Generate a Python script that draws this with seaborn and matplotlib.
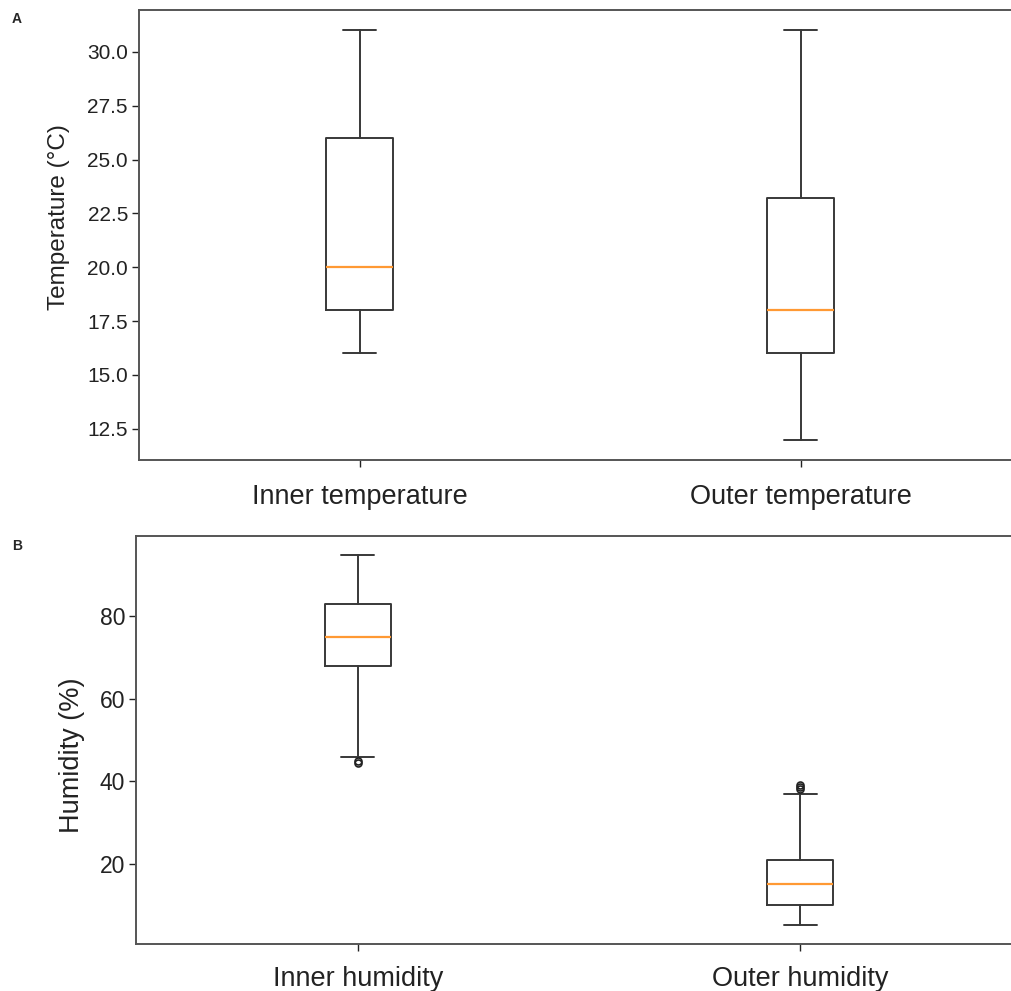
import matplotlib
matplotlib.use("Agg")
import matplotlib.pyplot as plt
import seaborn as sns

sns.set_style("white")
plt.rcParams['font.family'] = ['Liberation Sans', 'DejaVu Sans']

# Panel A: temperature five-number summaries
temp_labels = ["Inner temperature", "Outer temperature"]
temp_low = [16.0, 12.0]
temp_q1 = [18.0, 16.0]
temp_med = [20.0, 18.0]
temp_q3 = [26.0, 23.2]
temp_high = [31.0, 31.0]
temp_fliers = [[], []]

# Panel B: humidity five-number summaries
hum_labels = ["Inner humidity", "Outer humidity"]
hum_low = [46.0, 5.0]
hum_q1 = [68.0, 10.0]
hum_med = [75.0, 15.0]
hum_q3 = [83.0, 20.8]
hum_high = [95.0, 37.0]
hum_fliers = [[44.5, 45.0], [38.0, 38.6, 39.2]]

fig = plt.figure(figsize=(10.11, 9.91), dpi=100)
axA = fig.add_axes([0.1375, 0.5358, 0.8724, 0.4541])
axB = fig.add_axes([0.135, 0.0474, 0.8754, 0.4117])


def make_stats(labels, low, q1, med, q3, high, fliers):
    return [dict(label=l, whislo=a, q1=b, med=c, q3=d, whishi=e, fliers=f)
            for l, a, b, c, d, e, f in zip(labels, low, q1, med, q3, high, fliers)]


box_color = "#383838"
line_kw = dict(color=box_color, linewidth=1.4)
for ax, stats, ysize, xpad in [
    (axA, make_stats(temp_labels, temp_low, temp_q1, temp_med, temp_q3, temp_high, temp_fliers), 15, 12),
    (axB, make_stats(hum_labels, hum_low, hum_q1, hum_med, hum_q3, hum_high, hum_fliers), 16.5, 11),
]:
    ax.bxp(stats, boxprops=line_kw, whiskerprops=line_kw, capprops=line_kw,
           medianprops=dict(color="#ff9933", linewidth=1.6),
           flierprops=dict(marker="o", markerfacecolor="none", markeredgecolor="#222222",
                           markersize=5, markeredgewidth=1.2))
    for s in ax.spines.values():
        s.set_color("#555555")
        s.set_linewidth(1.4)
    ax.tick_params(axis="both", which="both", direction="out", length=5, width=1,
                   color="#555555", bottom=True, left=True)
    ax.tick_params(axis="y", labelsize=ysize, colors="#222222", pad=3)
    ax.tick_params(axis="x", labelsize=19.5, colors="#222222", pad=xpad)

axA.set_ylabel("Temperature (\u00b0C)", fontsize=17.5, color="#222222", va="center")
axB.set_ylabel("Humidity (%)", fontsize=19.5, color="#222222", va="center")
axA.yaxis.set_label_coords(-0.0907, 0.54)
axB.yaxis.set_label_coords(-0.0723, 0.463)
axA.set_yticks([12.5, 15.0, 17.5, 20.0, 22.5, 25.0, 27.5, 30.0])
axA.set_yticklabels(["12.5", "15.0", "17.5", "20.0", "22.5", "25.0", "27.5", "30.0"])
axB.set_yticks([20, 40, 60, 80])

fig.text(0.012, 0.9768, "A", fontsize=10, fontweight="bold")
fig.text(0.012, 0.445, "B", fontsize=10, fontweight="bold")

fig.savefig("out.png", dpi=100)
